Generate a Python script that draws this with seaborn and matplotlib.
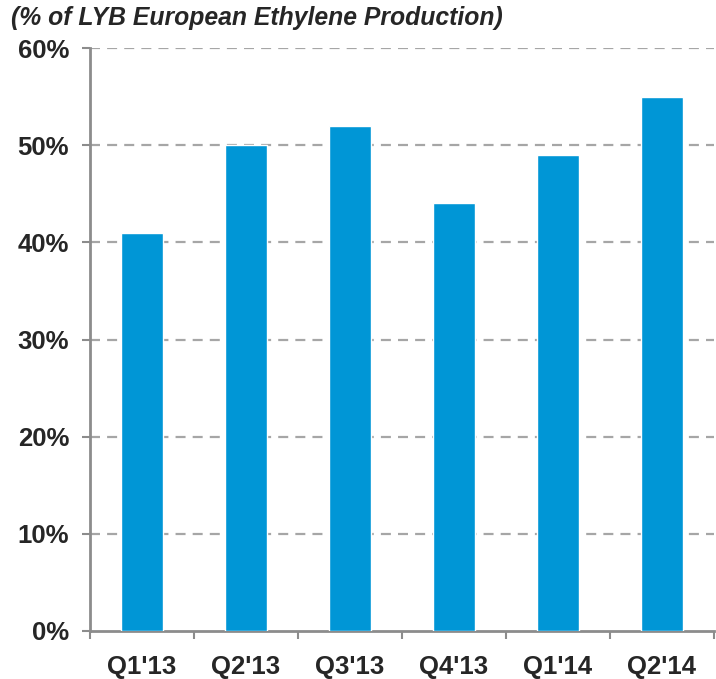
import numpy as np
import pandas as pd
import matplotlib
matplotlib.use("Agg")
from matplotlib import pyplot as plt
from matplotlib.ticker import FixedLocator
import seaborn as sns

quarters = ["Q1'13", "Q2'13", "Q3'13", "Q4'13", "Q1'14", "Q2'14"]
share_pct = [41, 50, 52, 44, 49, 55]
ytick_vals = [0, 10, 20, 30, 40, 50, 60]
ytick_labels = ["0%", "10%", "20%", "30%", "40%", "50%", "60%"]
title_text = "(% of LYB European Ethylene Production)"

bar_color = "#0096D6"
axis_gray = "#8C8C8C"
grid_gray = "#A6A6A6"

sns.set_style("white")
plt.rcParams["font.family"] = ["Liberation Sans", "DejaVu Sans"]

df = pd.DataFrame({"quarter": quarters, "share": share_pct})

fig = plt.figure(figsize=(7.16, 6.79), dpi=100)
ax = fig.add_axes([90 / 716, 1 - 631 / 679, (714 - 90) / 716, (631 - 48) / 679])

sns.barplot(data=df, x="quarter", y="share", color=bar_color, saturation=1,
            width=0.4, ax=ax, zorder=3)

ax.set_xlim(-0.5, len(quarters) - 0.5)
ax.set_ylim(0, 60)
ax.set_xlabel("")
ax.set_ylabel("")

# dashed grid, not at 0
for v in ytick_vals[1:]:
    ax.axhline(v, color=grid_gray, lw=1.6, ls=(0, (4.5, 3.2)), zorder=1)

ax.set_yticks(ytick_vals)
ax.set_yticklabels(ytick_labels, fontsize=18.5, fontweight="bold")
ax.tick_params(axis="y", direction="out", length=6, width=1.5, color=axis_gray,
               pad=9, left=True)

ax.set_xticks(range(len(quarters)))
ax.set_xticklabels(quarters, fontsize=18.5, fontweight="bold")
ax.tick_params(axis="x", which="major", length=0, pad=17)
ax.xaxis.set_minor_locator(FixedLocator(np.arange(-0.5, len(quarters), 1.0)))
ax.tick_params(axis="x", which="minor", direction="out", length=6, width=1.5,
               color=axis_gray, bottom=True)

for side in ["top", "right"]:
    ax.spines[side].set_visible(False)
for side in ["left", "bottom"]:
    ax.spines[side].set_color(axis_gray)
    ax.spines[side].set_linewidth(2)

fig.text(11 / 716, 1 - 18 / 679, title_text, fontsize=17.8, fontweight="bold",
         fontstyle="italic", ha="left", va="center")

fig.savefig("out.png", dpi=100)
